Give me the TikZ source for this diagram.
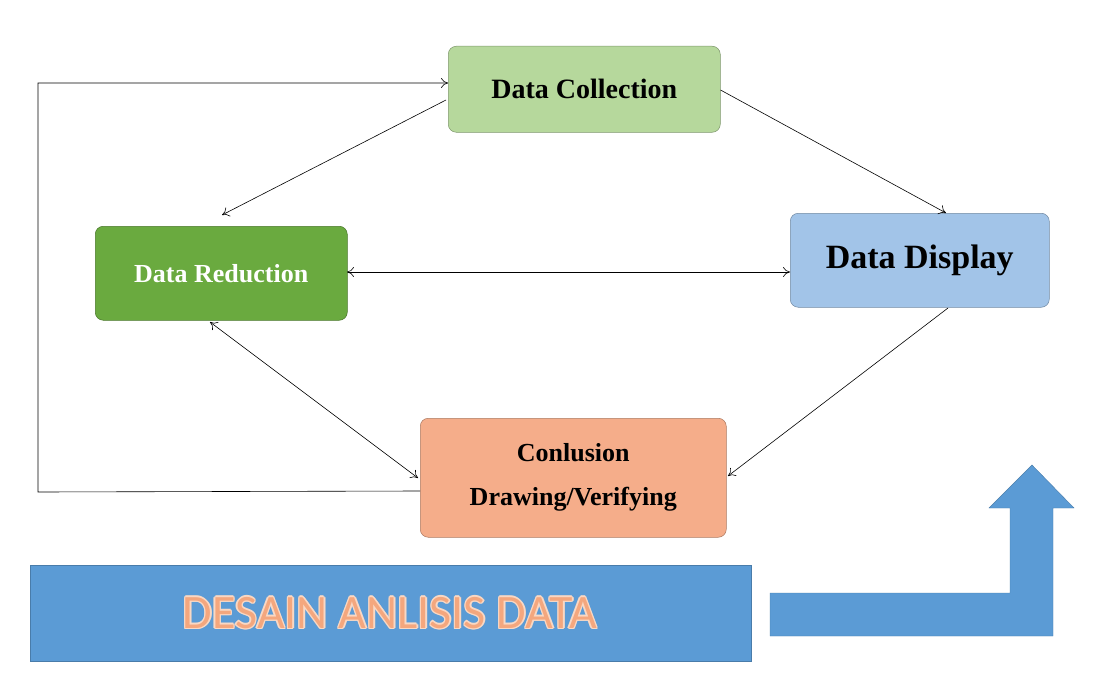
\documentclass[tikz,border=0pt]{standalone}
\usepackage{fontspec}
\usetikzlibrary{arrows.meta}
\setmainfont{Liberation Serif}
\newfontfamily\bannerfont{Carlito}
\begin{document}
\begin{tikzpicture}[x=1pt,y=-1pt,
 box/.style={rounded corners=8pt,draw=#1!70!black,line width=0.5pt,font=\bfseries,align=center,anchor=north west,inner sep=0pt},
 con/.style={-{To[length=7pt,width=10pt]},line width=0.6pt},
 bicon/.style={{To[length=7pt,width=10pt]}-{To[length=7pt,width=10pt]},line width=0.6pt},
 bantext/.style={font=\bannerfont\fontsize{48}{50}\selectfont}]
\useasboundingbox (0,0) rectangle (1103,693);
\definecolor{cg}{HTML}{B6D89C}\definecolor{rg}{HTML}{6AAA3F}
\definecolor{db}{HTML}{A2C4E8}\definecolor{co}{HTML}{F5AD8A}
\definecolor{bb}{HTML}{5B9BD5}\definecolor{ot}{HTML}{F4A77E}\definecolor{halo}{HTML}{F9D8C4}
\node[box=cg,fill=cg,minimum width=272pt,minimum height=86pt,font=\bfseries\fontsize{28}{32}\selectfont] (col) at (448,46) {Data Collection};
\node[box=rg,fill=rg,text=white,minimum width=252pt,minimum height=94pt,font=\bfseries\fontsize{26}{30}\selectfont] (red) at (95,226) {Data Reduction};
\node[box=db,fill=db,minimum width=259pt,minimum height=94pt,font=\bfseries\fontsize{34}{38}\selectfont] (dis) at (790,213) {Data Display};
\node[box=co,fill=co,minimum width=306pt,minimum height=119pt,font=\bfseries\fontsize{26}{44}\selectfont] (con) at (420,418) {Conlusion\\Drawing/Verifying};
\coordinate (c1) at (38,492); \coordinate (c2) at (38,83);
\draw[con] (col.east |- 0,90) -- (946,213);
\draw[con] (446,100) -- (222,215);
\draw[bicon] (347,272) -- (790,272);
\draw[bicon] (210,322) -- (418,478);
\draw[con] (948,308) -- (728,476);
\draw[con] (con.west |- 0,491) -- (c1) -- (c2) -- (col.west |- 0,83);
\node[draw=bb!80!black,fill=bb,minimum width=721pt,minimum height=96pt,anchor=north west,inner sep=0pt] (ban) at (30,565) {};
\foreach \dx/\dy in {-1.5/0,1.5/0,0/-1.5,0/1.5,-1/-1,1/1,-1/1,1/-1}
  \node[bantext,text=halo] at (390+\dx,613+\dy) {DESAIN ANLISIS DATA};
\node[bantext,text=ot] (bt) at (390,613) {DESAIN ANLISIS DATA};
\draw[draw=bb!80!black,fill=bb] (770,593) -- (1010,593) -- (1010,508) -- (989,508) -- (1032,465) -- (1074,508) -- (1053,508) -- (1053,636) -- (770,636) -- cycle;
\end{tikzpicture}
\end{document}
